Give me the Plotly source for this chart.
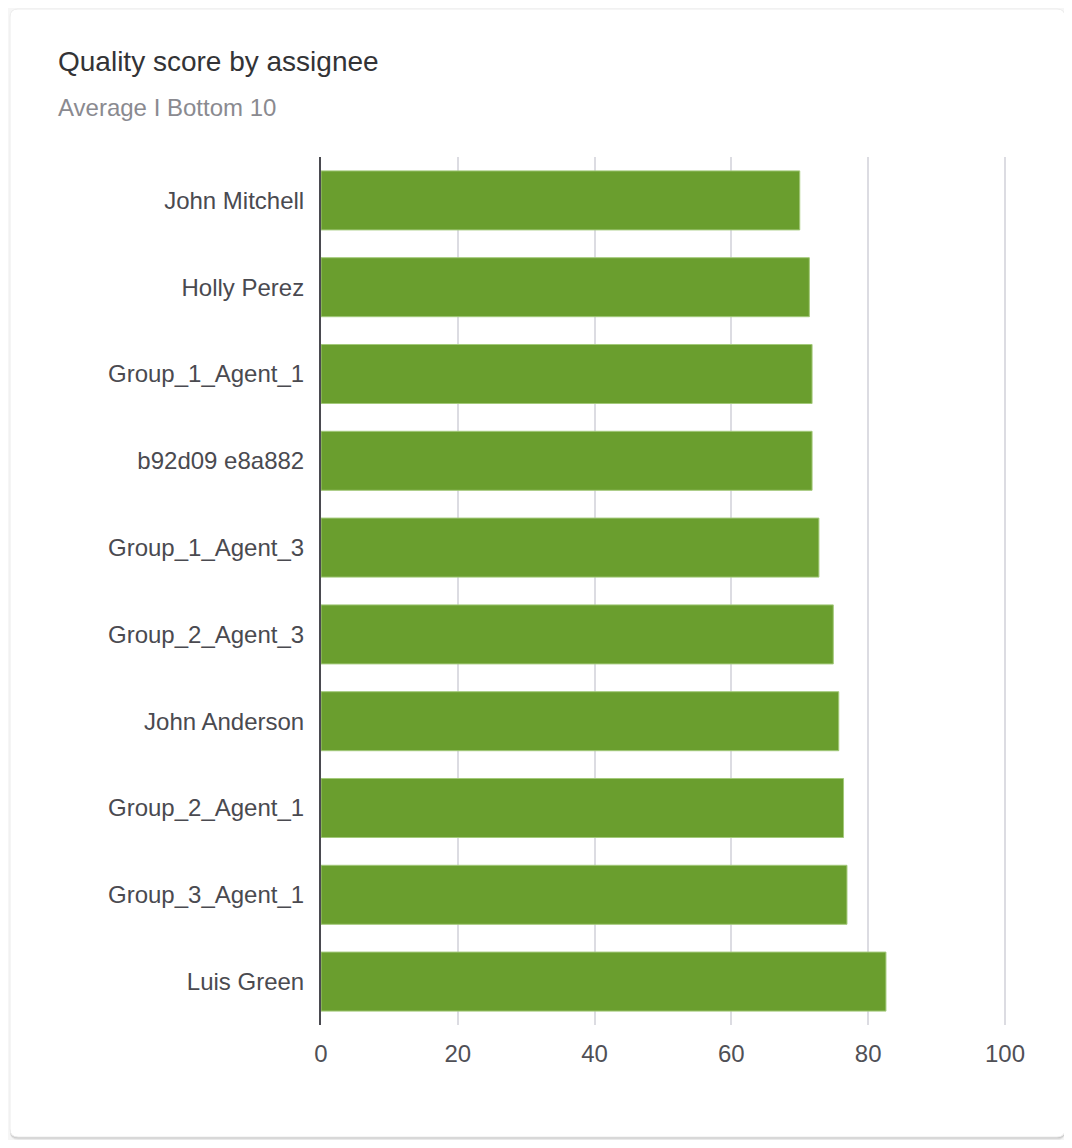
import plotly.graph_objects as go

# Data
assignees = [
    "John Mitchell", "Holly Perez", "Group_1_Agent_1", "b92d09 e8a882",
    "Group_1_Agent_3", "Group_2_Agent_3", "John Anderson", "Group_2_Agent_1",
    "Group_3_Agent_1", "Luis Green",
]
scores = [70.0, 71.4, 71.8, 71.8, 72.8, 74.9, 75.7, 76.4, 76.9, 82.6]
x_ticks = [0, 20, 40, 60, 80, 100]

# the page body has an 8px margin, so work in screen pixels and shift
OFF = 8
W, H = 1072 - 2 * OFF, 1148 - 2 * OFF
L, R, T, B = 321, 1007, 157, 1025  # plot area in screen pixels

def px(x):
    return (x - L) / (R - L)

def py(y):
    return (B - y) / (B - T)

def rounded_rect(x0, y0, x1, y1, r):
    # screen pixel coords -> paper path with rounded corners
    rx, ry = r / (R - L), r / (B - T)
    a, b, c, d = px(x0), py(y1), px(x1), py(y0)  # left, bottom, right, top
    return (f"M {a+rx},{b} L {c-rx},{b} Q {c},{b} {c},{b+ry} "
            f"L {c},{d-ry} Q {c},{d} {c-rx},{d} L {a+rx},{d} "
            f"Q {a},{d} {a},{d-ry} L {a},{b+ry} Q {a},{b} {a+rx},{b} Z")

FONT = "Liberation Sans, Arial, Helvetica, sans-serif"

fig = go.Figure(go.Bar(
    x=scores,
    y=assignees,
    orientation="h",
    marker=dict(color="#6a9e2e", line=dict(color="#a3c97a", width=1)),
    hoverinfo="skip",
))

shapes = []
# soft shadow under the card
for off, op in [(3, 0.05), (2, 0.07), (1, 0.09)]:
    shapes.append(dict(type="path", xref="paper", yref="paper", layer="below",
                       path=rounded_rect(10, 9 + off, 1065, 1137 + off, 8),
                       fillcolor=f"rgba(0,0,0,{op})", line=dict(width=0)))
shapes.append(dict(type="path", xref="paper", yref="paper", layer="below",
                   path=rounded_rect(10, 9, 1065, 1137, 8),
                   fillcolor="white", line=dict(color="#ececec", width=1)))

fig.update_layout(
    width=W, height=H,
    margin=dict(l=L - OFF, r=W - (R - OFF), t=T - OFF, b=H - (B - OFF)),
    paper_bgcolor="#f6f6f6",
    plot_bgcolor="rgba(0,0,0,0)",
    font=dict(family=FONT, color="#4a4a50"),
    showlegend=False,
    bargap=0.32,
    shapes=shapes,
    xaxis=dict(
        range=[0, 100.3], tickvals=x_ticks, showgrid=True,
        gridcolor="#dcdce2", gridwidth=2, zeroline=False, showline=False,
        ticks="", tickfont=dict(size=24, color="#505056"),
        ticklabelstandoff=12, fixedrange=True,
    ),
    yaxis=dict(
        autorange="reversed", showgrid=False, zeroline=False,
        showline=True, linecolor="#4a4a50", linewidth=2,
        ticks="", tickfont=dict(size=24, color="#4a4a50"),
        ticklabelstandoff=10, fixedrange=True,
    ),
    annotations=[
        dict(text="Quality score by assignee", xref="paper", yref="paper",
             x=px(56), y=py(61), xanchor="left", yanchor="middle",
             showarrow=False, font=dict(size=28, color="#333336")),
        dict(text="Average I Bottom 10", xref="paper", yref="paper",
             x=px(56), y=py(107), xanchor="left", yanchor="middle",
             showarrow=False, font=dict(size=24, color="#8a8a90")),
    ],
)

fig.write_html("out.html")
